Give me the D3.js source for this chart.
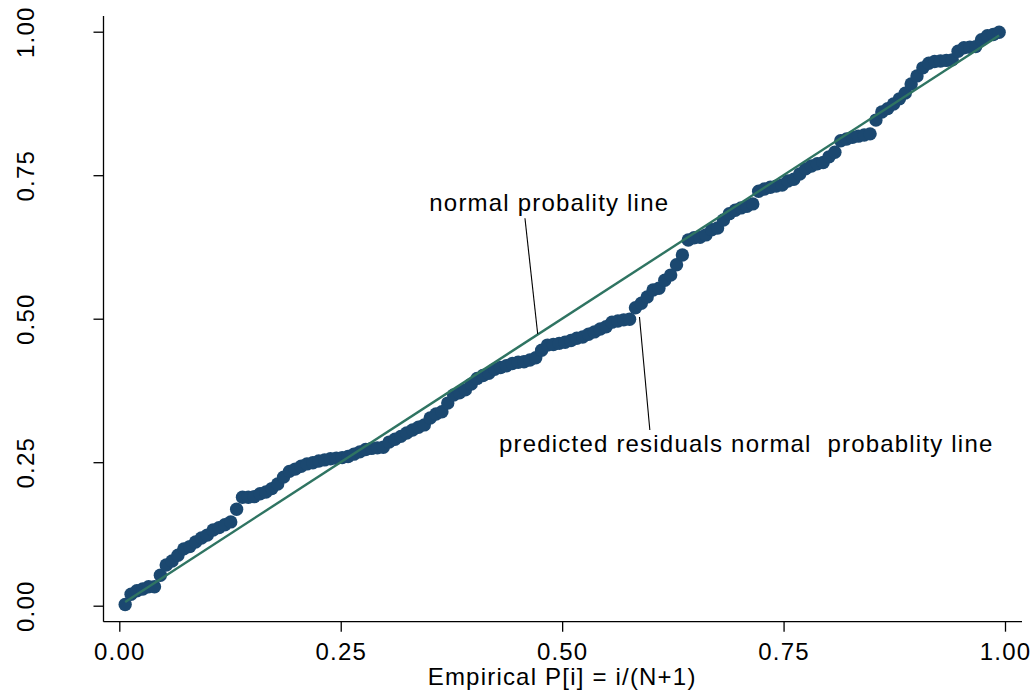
<!DOCTYPE html>
<html>
<head>
<meta charset="utf-8">
<script src="https://cdn.jsdelivr.net/npm/d3@7"></script>
<style>
  html, body { margin: 0; padding: 0; background: #fff; }
  svg { display: block; }
  text { font-family: "Liberation Sans", Arial, sans-serif; font-size: 24px; letter-spacing: 1.2px; fill: #000; }
</style>
</head>
<body>
<svg id="chart" width="1034" height="693"></svg>
<script>
// Sorted predicted-residual probabilities (y); x = i/(N+1)
const residualProb = [
  0.002, 0.020, 0.026, 0.029, 0.033, 0.033, 0.053, 0.071, 0.078, 0.088,
  0.099, 0.103, 0.111, 0.118, 0.123, 0.132, 0.136, 0.141, 0.146, 0.168,
  0.189, 0.189, 0.190, 0.195, 0.198, 0.204, 0.212, 0.224, 0.234, 0.238,
  0.243, 0.247, 0.249, 0.252, 0.254, 0.256, 0.257, 0.258, 0.260, 0.264,
  0.268, 0.272, 0.274, 0.275, 0.276, 0.285, 0.290, 0.295, 0.301, 0.306,
  0.311, 0.315, 0.327, 0.334, 0.338, 0.353, 0.367, 0.371, 0.376, 0.386,
  0.396, 0.401, 0.405, 0.412, 0.415, 0.418, 0.422, 0.424, 0.425, 0.428,
  0.432, 0.445, 0.454, 0.455, 0.457, 0.459, 0.462, 0.466, 0.468, 0.473,
  0.477, 0.482, 0.486, 0.494, 0.496, 0.498, 0.499, 0.519, 0.527, 0.538,
  0.550, 0.553, 0.567, 0.576, 0.594, 0.611, 0.637, 0.641, 0.642, 0.646,
  0.655, 0.658, 0.672, 0.683, 0.689, 0.693, 0.696, 0.700, 0.722, 0.726,
  0.729, 0.731, 0.733, 0.740, 0.743, 0.752, 0.761, 0.766, 0.770, 0.772,
  0.782, 0.790, 0.810, 0.813, 0.816, 0.818, 0.820, 0.822, 0.846, 0.860,
  0.866, 0.874, 0.883, 0.893, 0.909, 0.923, 0.937, 0.945, 0.948, 0.949,
  0.950, 0.951, 0.966, 0.972, 0.973, 0.974, 0.986, 0.993, 0.995, 0.999
];
const xTicks = [0, 0.25, 0.5, 0.75, 1];
const yTicks = [0, 0.25, 0.5, 0.75, 1];
const xTitle = "Empirical P[i] = i/(N+1)";
// annotations: [text x, text y], leader from -> to (data units)
const annotations = [
  { text: "normal probality line", tx: 0.350, ty: 0.688, from: [0.458, 0.675], to: [0.4724, 0.4733] },
  { text: "predicted residuals normal  probablity line", tx: 0.4287, ty: 0.2678, from: [0.5873, 0.503], to: [0.599, 0.306] }
];

const N = residualProb.length;
const points = residualProb.map((v, i) => ({ x: (i + 1) / (N + 1), y: v }));

const svg = d3.select("#chart");
const x = d3.scaleLinear().domain([0, 1]).range([119.3, 1005]);
const y = d3.scaleLinear().domain([0, 1]).range([605.7, 31.7]);

const axisX = 103.5, axisY = 621.7;
const fmt = d3.format(".2f");

// x axis
const gx = svg.append("g").attr("transform", `translate(0,${axisY})`)
  .call(d3.axisBottom(x).tickValues(xTicks).tickFormat(fmt).tickSize(10).tickPadding(4));
gx.select(".domain").remove();
gx.selectAll(".tick line").attr("stroke", "#000").attr("stroke-width", 1.3);
gx.selectAll(".tick text").attr("font-size", null).attr("font-family", null).attr("y", 38).attr("dy", null);
svg.append("line").attr("x1", axisX).attr("x2", 1022).attr("y1", axisY).attr("y2", axisY)
  .attr("stroke", "#000").attr("stroke-width", 1.3);

// y axis
const gy = svg.append("g").attr("transform", `translate(${axisX},0)`)
  .call(d3.axisLeft(y).tickValues(yTicks).tickFormat(fmt).tickSize(10));
gy.select(".domain").remove();
gy.selectAll(".tick line").attr("stroke", "#000").attr("stroke-width", 1.3);
gy.selectAll(".tick text").attr("font-size", null).attr("font-family", null)
  .attr("x", null).attr("dy", null)
  .attr("text-anchor", "middle")
  .attr("transform", "translate(-70,0) rotate(-90)");
svg.append("line").attr("x1", axisX).attr("x2", axisX).attr("y1", 16).attr("y2", axisY)
  .attr("stroke", "#000").attr("stroke-width", 1.3);

// axis title
svg.append("text").attr("x", (x(0) + x(1)) / 2).attr("y", 685).attr("text-anchor", "middle").text(xTitle);

// markers
svg.append("g").selectAll("circle").data(points).join("circle")
  .attr("cx", d => x(d.x)).attr("cy", d => y(d.y)).attr("r", 6.7)
  .attr("fill", "#1b4870");

// normal probability reference line y = x
const ext = d3.extent(points, d => d.x);
svg.append("line")
  .attr("x1", x(ext[0])).attr("y1", y(ext[0]))
  .attr("x2", x(ext[1])).attr("y2", y(ext[1]))
  .attr("stroke", "#2f7462").attr("stroke-width", 2.4);

// annotations
annotations.forEach(a => {
  svg.append("line")
    .attr("x1", x(a.from[0])).attr("y1", y(a.from[1]))
    .attr("x2", x(a.to[0])).attr("y2", y(a.to[1]))
    .attr("stroke", "#000").attr("stroke-width", 1.1);
  svg.append("text").attr("x", x(a.tx)).attr("y", y(a.ty))
    .attr("xml:space", "preserve").style("white-space", "pre").text(a.text);
});
</script>
</body>
</html>
